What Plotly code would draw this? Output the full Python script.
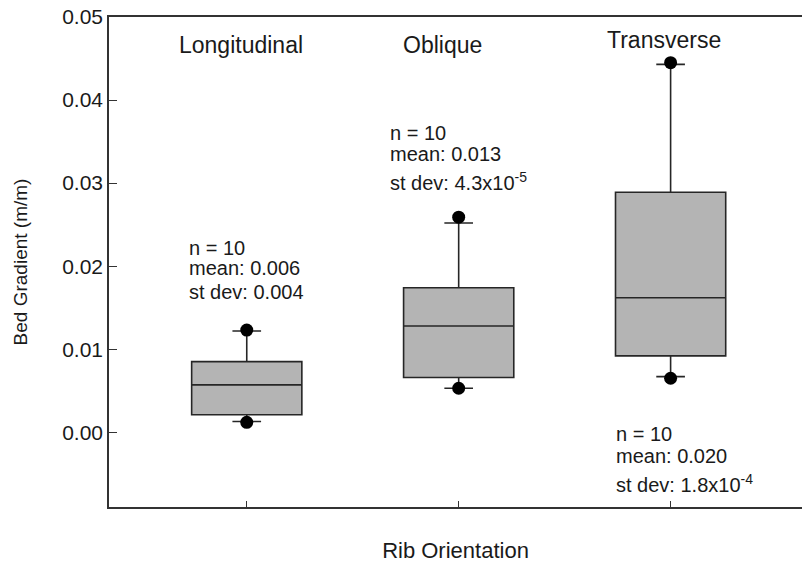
import plotly.graph_objects as go

# Rib orientation groups
categories = ["Longitudinal", "Oblique", "Transverse"]
positions = [0, 1, 2]

# Box statistics of bed gradient (m/m)
q1 = [0.0021, 0.0066, 0.0092]
median = [0.0057, 0.0128, 0.0162]
q3 = [0.0085, 0.0174, 0.0289]
lower_whisker = [0.0013, 0.0053, 0.0067]
upper_whisker = [0.0122, 0.0252, 0.0443]

# Extreme observations drawn as dots
low_points = [0.0012, 0.0053, 0.0065]
high_points = [0.0123, 0.0259, 0.0445]

# Summary text per group
n_text = ["n = 10", "n = 10", "n = 10"]
mean_text = ["mean: 0.006", "mean: 0.013", "mean: 0.020"]
sd_text = ["st dev: 0.004", "st dev: 4.3x10<sup>-5</sup>", "st dev: 1.8x10<sup>-4</sup>"]

y_ticks = [0.00, 0.01, 0.02, 0.03, 0.04, 0.05]

FONT = "Liberation Sans, Arial, sans-serif"
TEXT = "#1a1a1a"
fig = go.Figure()

fig.add_trace(go.Box(
    x=positions,
    q1=q1, median=median, q3=q3,
    lowerfence=lower_whisker, upperfence=upper_whisker,
    boxpoints=False,
    width=0.52,
    whiskerwidth=0.26,
    fillcolor="#b4b4b4",
    line=dict(color="#262626", width=1.6),
    showlegend=False,
    hoverinfo="skip",
))

fig.add_trace(go.Scatter(
    x=positions + positions,
    y=low_points + high_points,
    mode="markers",
    marker=dict(color="black", size=13),
    showlegend=False,
    hoverinfo="skip",
))

# Group names across the top
label_x = [-0.028, 0.925, 1.97]
label_y = [0.0466, 0.0466, 0.0472]
for name, lx, ly in zip(categories, label_x, label_y):
    fig.add_annotation(x=lx, y=ly, xref="x", yref="y", text=name, showarrow=False,
                       font=dict(family=FONT, size=23, color=TEXT),
                       xanchor="center", yanchor="middle")

# Summary statistics blocks
text_x = [-0.283, 0.665, 1.731]
text_y = [[0.0222, 0.0198, 0.0169],
          [0.0360, 0.0335, 0.0302],
          [-0.0002, -0.0028, -0.0062]]
for i in range(3):
    for txt, ty in zip([n_text[i], mean_text[i], sd_text[i]], text_y[i]):
        fig.add_annotation(x=text_x[i], y=ty, xref="x", yref="y", text=txt, showarrow=False,
                           font=dict(family=FONT, size=20, color=TEXT),
                           xanchor="left", yanchor="middle")

fig.update_layout(
    width=802, height=571,
    margin=dict(l=109, r=0, t=17, b=64),
    plot_bgcolor="white", paper_bgcolor="white",
    font=dict(family=FONT, color=TEXT),
)

fig.update_xaxes(
    range=[-0.65, 2.62],
    tickvals=positions, ticktext=["", "", ""],
    ticks="inside", ticklen=6, tickcolor="#333", tickwidth=1.2,
    showline=True, linecolor="#333", linewidth=1.5, mirror=True,
    showgrid=False, zeroline=False,
    title=dict(text="Rib Orientation", font=dict(family=FONT, size=22), standoff=32),
)

fig.update_yaxes(
    range=[-0.009, 0.05],
    tickvals=y_ticks, ticktext=[f"{v:.2f}" for v in y_ticks],
    ticks="inside", ticklen=8, tickcolor="#333", tickwidth=1.2,
    tickfont=dict(family=FONT, size=21),
    showline=True, linecolor="#333", linewidth=1.5,
    showgrid=False, zeroline=False,
    title=dict(text="Bed Gradient (m/m)", font=dict(family=FONT, size=19), standoff=30),
)

fig.write_html("out.html")
